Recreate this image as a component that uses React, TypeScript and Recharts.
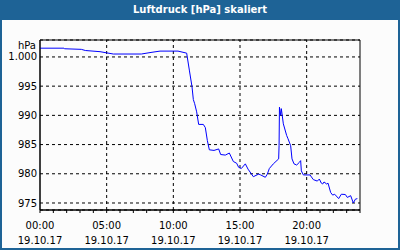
import {
  LineChart,
  Line,
  XAxis,
  YAxis,
  CartesianGrid,
  ReferenceLine,
  ReferenceArea,
  Label,
} from "recharts";

// Stunden seit 00:00 am 19.10.17
const HOURS = [
  0, 1.8, 1.85, 3.1, 3.4, 4.5, 5.5, 7.6, 8.4, 9.0, 10.35, 11.0, 11.2, 11.4, 11.5,
  11.6, 11.75, 11.9, 12.25, 12.4, 12.55, 12.7, 13.05, 13.4, 13.55, 13.9, 14.2,
  14.5, 14.75, 14.9, 15.1, 15.4, 15.6, 16.0, 16.4, 16.55, 16.9, 17.05, 17.2,
  17.5, 17.9, 17.93, 17.96, 18.05, 18.1, 18.25, 18.5, 18.6, 18.8, 18.9, 19.05,
  19.25, 19.45, 19.55, 19.6, 19.75, 20.25, 20.5, 20.8, 20.95, 21.1, 21.2, 21.3,
  21.5, 21.6, 21.8, 21.95, 22.1, 22.4, 22.6, 22.9, 23.05, 23.3, 23.5, 23.65,
  23.8,
];

// Luftdruck in hPa
const PRESSURE = [
  1001.5, 1001.5, 1001.4, 1001.3, 1001.1, 1000.9, 1000.5, 1000.5, 1000.8,
  1001.0, 1001.0, 1000.65, 997.75, 994.9, 992.7, 992.0, 990.6, 988.45, 988.45,
  987.9, 985.7, 984.1, 984.0, 984.25, 983.3, 983.2, 983.55, 982.1, 981.8, 981.1,
  980.9, 981.7, 980.8, 979.5, 979.95, 979.8, 979.4, 979.95, 980.9, 981.7,
  982.55, 984.8, 991.4, 990.0, 991.15, 988.55, 986.55, 986.0, 984.8, 982.55,
  981.7, 981.5, 981.95, 982.25, 980.5, 979.8, 979.8, 979.0, 978.75, 979.1,
  978.4, 978.25, 978.6, 978.25, 978.4, 976.8, 976.35, 976.5, 975.75, 976.5,
  976.45, 975.95, 976.25, 975.0, 975.65, 975.75,
];

const X_TICKS = Array.from({ length: 25 }, (_, i) => i); // jede Stunde ein Strich
const X_MAJOR = [5, 10, 15, 20];
const Y_TICKS = [975, 980, 985, 990, 995, 1000];
const Y_DOMAIN = [973.8, 1002.9];
const DATE_LABEL = "19.10.17";

const TITLE_BG = "#1e6396";
const FONT = "'DejaVu Sans', Verdana, sans-serif";

const data = HOURS.map((h, i) => ({ h, p: PRESSURE[i] }));

// eslint-disable-next-line @typescript-eslint/no-explicit-any
function TimeTick(props: any) {
  const { x, y, payload } = props;
  if (payload.value % 5 !== 0) return <g />;
  const hh = String(payload.value).padStart(2, "0");
  return (
    <g>
      <text x={x} y={y} dy={15.5} textAnchor="middle" fontSize={10} fontFamily={FONT} fill="#000">
        {`${hh}:00`}
      </text>
      <text x={x} y={y} dy={30.5} textAnchor="middle" fontSize={10} fontFamily={FONT} fill="#000">
        {DATE_LABEL}
      </text>
    </g>
  );
}

export default function App() {
  return (
    <div
      style={{
        position: "absolute",
        left: 0,
        top: 0,
        width: 400,
        height: 250,
        boxSizing: "border-box",
        border: `2px solid ${TITLE_BG}`,
        borderTop: "none",
        background: "#fcfcfc",
        fontFamily: FONT,
      }}
    >
      <div
        style={{
          height: 20,
          lineHeight: "20px",
          background: TITLE_BG,
          color: "#fff",
          fontWeight: "bold",
          fontSize: 10,
          textAlign: "center",
          margin: "0 -2px",
        }}
      >
        Luftdruck [hPa] skaliert
      </div>
      <div style={{ position: "absolute", left: -2, top: 0 }}>
        <LineChart width={400} height={250} data={data} margin={{ top: 40, right: 40, bottom: 0, left: 0 }}>
          <CartesianGrid vertical={false} stroke="#000" strokeDasharray="3 3" />
          {X_MAJOR.map((h) => (
            <ReferenceLine key={h} x={h} stroke="#000" strokeDasharray="3 3" />
          ))}
          <ReferenceArea
            x1={0}
            x2={24}
            y1={Y_DOMAIN[0]}
            y2={Y_DOMAIN[1]}
            fill="none"
            stroke="#000"
            strokeWidth={1}
          />
          <XAxis
            dataKey="h"
            type="number"
            domain={[0, 24]}
            ticks={X_TICKS}
            interval={0}
            height={40}
            tickSize={3}
            tickMargin={0}
            stroke="#000"
            tick={TimeTick}
            allowDataOverflow
          />
          <YAxis
            type="number"
            domain={Y_DOMAIN}
            ticks={Y_TICKS}
            interval={0}
            width={40}
            tickLine={false}
            tickSize={0}
            tickMargin={3}
            stroke="#000"
            allowDataOverflow
            tick={{ fontSize: 10, fontFamily: FONT, fill: "#000" }}
            tickFormatter={(v: number) => v.toLocaleString("de-DE")}
          >
            <Label
              // eslint-disable-next-line @typescript-eslint/no-explicit-any
              content={({ viewBox }: any) => (
                <text
                  x={viewBox.x + viewBox.width - 4}
                  y={viewBox.y + 9}
                  textAnchor="end"
                  fontSize={10}
                  fontFamily={FONT}
                  fill="#000"
                >
                  hPa
                </text>
              )}
            />
          </YAxis>
          <Line
            type="linear"
            dataKey="p"
            stroke="#0000ff"
            strokeWidth={1}
            dot={false}
            isAnimationActive={false}
          />
        </LineChart>
      </div>
    </div>
  );
}
